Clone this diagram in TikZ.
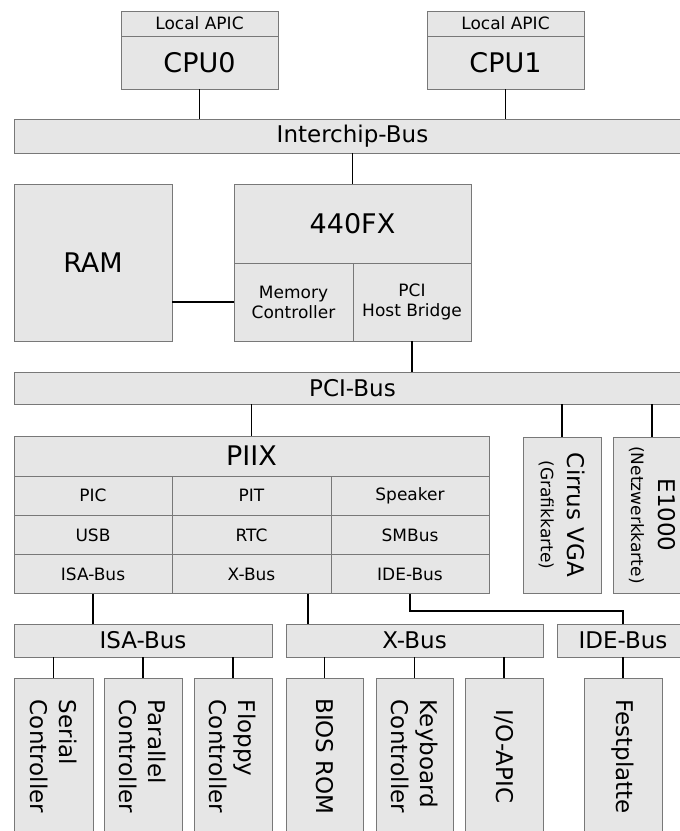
\documentclass[tikz,border=0pt]{standalone}
\usepackage{fontspec}
\setmainfont{DejaVu Sans}
\definecolor{boxfill}{RGB}{230,230,230}
\definecolor{boxline}{RGB}{120,120,120}
\newcommand{\fsS}{\fontsize{17}{20}\selectfont}
\newcommand{\fsM}{\fontsize{23}{29}\selectfont}
\newcommand{\fsL}{\fontsize{27}{32}\selectfont}
\tikzset{
  box/.style={draw=boxline, fill=boxfill, line width=1pt, inner sep=0pt, outer sep=0pt},
  wire/.style={draw=black, line width=1.5pt},
  vbox/.style={box, rotate=-90, minimum width=157pt, minimum height=78pt, font=\fsM},
}
\begin{document}
\begin{tikzpicture}[x=1pt,y=-1pt]
\useasboundingbox (0,0) rectangle (680,831);
\fill[white] (0,0) rectangle (680,831);
\clip (0,0) rectangle (680,831);

% CPUs
\node[box, minimum width=157pt, minimum height=25pt, font=\fsS] (apic0) at (199.5,23.5) {Local APIC};
\node[box, minimum width=157pt, minimum height=53pt, font=\fsL] (cpu0) at (199.5,62.5) {CPU0};
\node[box, minimum width=157pt, minimum height=25pt, font=\fsS] (apic1) at (505.5,23.5) {Local APIC};
\node[box, minimum width=157pt, minimum height=53pt, font=\fsL] (cpu1) at (505.5,62.5) {CPU1};

\node[box, minimum width=677pt, minimum height=34pt, font=\fsM] (interchip) at (352.5,136) {Interchip-Bus};

% RAM and 440FX
\node[box, minimum width=158pt, minimum height=157pt, font=\fsL] (ram) at (93,262.5) {RAM};
\node[box, minimum width=237pt, minimum height=79pt, font=\fsL] (fx) at (352.5,223.5) {440FX};
\node[box, minimum width=119pt, minimum height=78pt, font=\fsS, align=center] (memctl) at (293.5,302) {Memory\\Controller};
\node[box, minimum width=118pt, minimum height=78pt, font=\fsS, align=center] (pcihb) at (412,302) {PCI\\Host Bridge};

\node[box, minimum width=677pt, minimum height=32pt, font=\fsM] (pcibus) at (352.5,388) {PCI-Bus};

% PIIX
\node[box, minimum width=475pt, minimum height=40pt, font=\fsL] (piix) at (251.5,456) {PIIX};
\tikzset{cell/.style={box, minimum height=39.3pt, font=\fsS}}
\node[cell, minimum width=158pt] (pic) at (93,495.7) {PIC};
\node[cell, minimum width=159pt] (pit) at (251.5,495.7) {PIT};
\node[cell, minimum width=158pt] (speaker) at (410,495.7) {Speaker};
\node[cell, minimum width=158pt] (usb) at (93,535) {USB};
\node[cell, minimum width=159pt] (rtc) at (251.5,535) {RTC};
\node[cell, minimum width=158pt] (smbus) at (410,535) {SMBus};
\node[cell, minimum width=158pt] (isacell) at (93,574.3) {ISA-Bus};
\node[cell, minimum width=159pt] (xcell) at (251.5,574.3) {X-Bus};
\node[cell, minimum width=158pt] (idecell) at (410,574.3) {IDE-Bus};

% PCI cards
\node[box, rotate=-90, minimum width=156pt, minimum height=78pt, align=center, font=\fsM] (cirrus) at (562,515) {Cirrus VGA\\[-2pt]{\fsS (Grafikkarte)}};
\node[box, rotate=-90, minimum width=156pt, minimum height=78pt, align=center, font=\fsM] (e1000) at (652,515) {E1000\\[-2pt]{\fsS (Netzwerkkarte)}};

% Sub-buses
\node[box, minimum width=258pt, minimum height=33pt, font=\fsM] (isabus) at (143,640.5) {ISA-Bus};
\node[box, minimum width=257pt, minimum height=33pt, font=\fsM] (xbus) at (414.5,640.5) {X-Bus};
\node[box, minimum width=132pt, minimum height=33pt, font=\fsM] (idebus) at (623,640.5) {IDE-Bus};

% Devices
\node[vbox, minimum height=79pt, align=left] (serial) at (53.5,756.5) {Serial\\Controller};
\node[vbox, align=left] (parallel) at (143,756.5) {Parallel\\Controller};
\node[vbox, align=left] (floppy) at (233,756.5) {Floppy\\Controller};
\node[vbox, minimum height=77pt] (bios) at (324.5,756.5) {BIOS ROM};
\node[vbox, minimum height=77pt, align=left] (keyboard) at (414.5,756.5) {Keyboard\\Controller};
\node[vbox] (ioapic) at (504,756.5) {I/O-APIC};
\node[vbox] (festplatte) at (623,756.5) {Festplatte};

% Connectors
\draw[wire] (cpu0.south) -- (cpu0.south |- interchip.north);
\draw[wire] (cpu1.south) -- (cpu1.south |- interchip.north);
\draw[wire] (interchip.south -| fx.north) -- (fx.north);
\draw[wire] (ram.east |- memctl.west) -- (memctl.west);
\draw[wire] (pcihb.south) -- (pcihb.south |- pcibus.north);
\draw[wire] (pcibus.south -| piix.north) -- (piix.north);
\draw[wire] (pcibus.south -| cirrus.west) -- (cirrus.west);
\draw[wire] (pcibus.south -| e1000.west) -- (e1000.west);
\draw[wire] (isacell.south) -- (isacell.south |- isabus.north);
\path (xbus.north west) ++(22,0) coordinate (xb);
\draw[wire] (xb |- xcell.south) -- (xb);
\draw[wire] (idecell.south) -- ++(0,17) -| (idebus.north);
\draw[wire] (isabus.south -| serial.west) -- (serial.west);
\draw[wire] (isabus.south -| parallel.west) -- (parallel.west);
\draw[wire] (isabus.south -| floppy.west) -- (floppy.west);
\draw[wire] (xbus.south -| bios.west) -- (bios.west);
\draw[wire] (xbus.south -| keyboard.west) -- (keyboard.west);
\draw[wire] (xbus.south -| ioapic.west) -- (ioapic.west);
\draw[wire] (idebus.south -| festplatte.west) -- (festplatte.west);
\end{tikzpicture}
\end{document}
